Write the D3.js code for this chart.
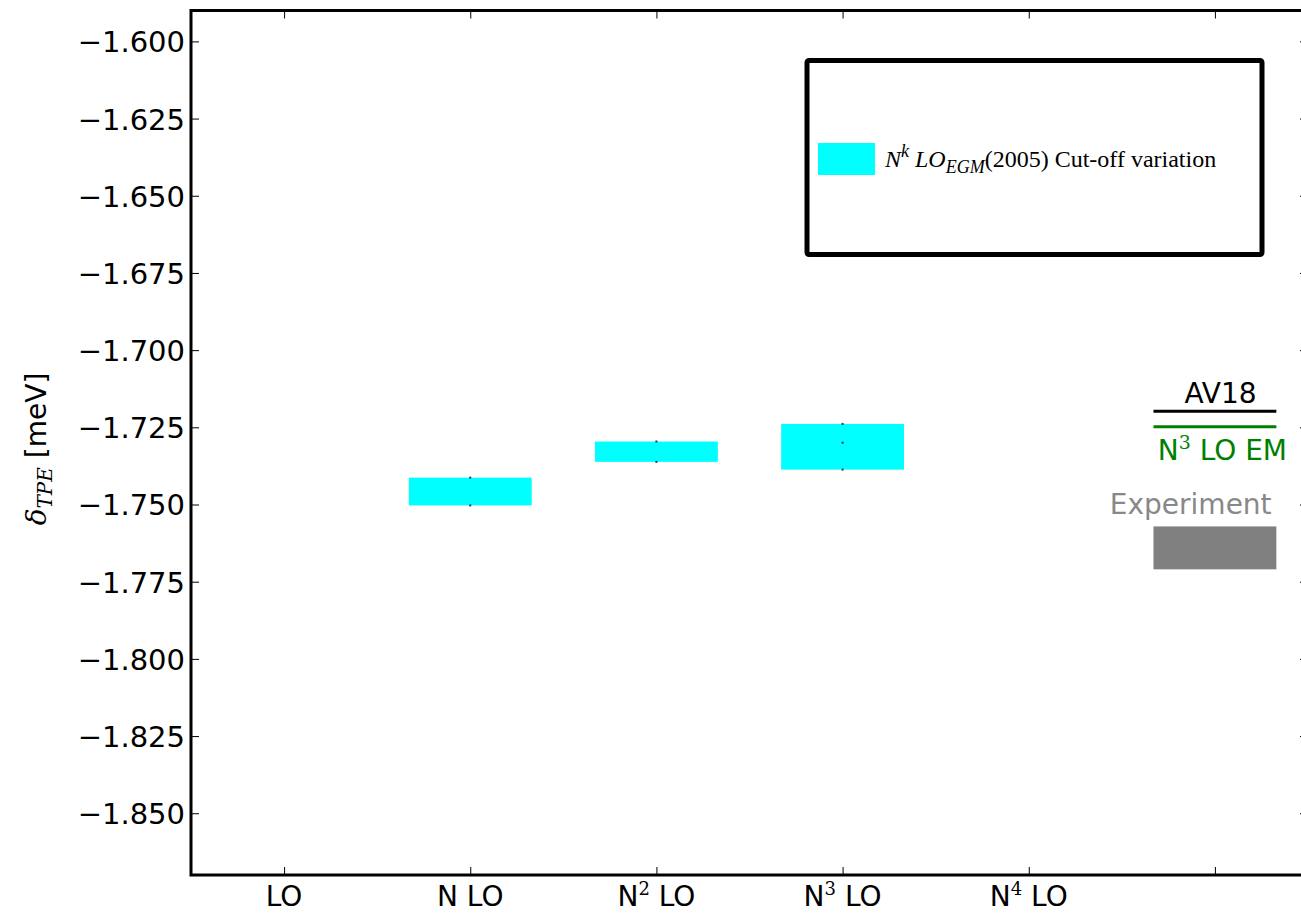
<!DOCTYPE html>
<meta charset="utf-8">
<style>
body { margin: 0; background: #fff; }
svg { display: block; }
.axis text { font-family: 'DejaVu Sans', sans-serif; fill: #000; }
</style>
<svg width="1301" height="914"></svg>
<script src="https://d3js.org/d3.v7.min.js"></script>
<script>

// orders of the chiral expansion (x positions 0..5)
var orders = ["LO", "N LO", "N2 LO", "N3 LO", "N4 LO", ""];
var orderSup = [null, null, "2", "3", "4", null];

// cut-off variation bands: [x index, low, high]
var bandX = [1, 2, 3];
var bandLow = [-1.7503, -1.7362, -1.7387];
var bandHigh = [-1.7413, -1.7296, -1.7239];
var bandMid = [null, null, -1.7300];

// reference values drawn at x = 5
var av18 = -1.7198;
var n3loEM = -1.7248;
var expLow = -1.7710, expHigh = -1.7571;

var yTicks = [-1.600, -1.625, -1.650, -1.675, -1.700, -1.725, -1.750,
              -1.775, -1.800, -1.825, -1.850];
var xTicks = [0, 1, 2, 3, 4, 5];

var sans = "'DejaVu Sans', sans-serif";
var serifM = "'DejaVu Serif', serif";

var svg = d3.select("svg");
var pL = 191, pR = 1308, pT = 10.5, pB = 875;
var halfW = 0.33;

var x = d3.scaleLinear().domain([-0.5, 5.5]).range([pL, pR]);
var y = d3.scaleLinear().domain([-1.59, -1.87]).range([pT, pB]);

// bands
svg.append("g").selectAll("rect")
  .data(bandX)
  .enter().append("rect")
  .attr("x", function(d) { return x(d - halfW); })
  .attr("width", function(d) { return x(d + halfW) - x(d - halfW); })
  .attr("y", function(d, i) { return y(bandHigh[i]); })
  .attr("height", function(d, i) { return y(bandLow[i]) - y(bandHigh[i]); })
  .attr("fill", "#00ffff");

// tiny errorbar marks in the band centres
var marks = [];
bandX.forEach(function(d, i) {
  marks.push([d, bandLow[i]], [d, bandHigh[i]]);
  if (bandMid[i] != null) marks.push([d, bandMid[i]]);
});
svg.append("g").selectAll("rect")
  .data(marks)
  .enter().append("rect")
  .attr("x", function(d) { return x(d[0]) - 1; })
  .attr("y", function(d) { return y(d[1]) - 1; })
  .attr("width", 2).attr("height", 2)
  .attr("fill", "#335");

// AV18 / N3LO EM lines and experiment box
svg.append("line")
  .attr("x1", x(5 - halfW)).attr("x2", x(5 + halfW))
  .attr("y1", y(av18)).attr("y2", y(av18))
  .attr("stroke", "#000").attr("stroke-width", 3);
svg.append("line")
  .attr("x1", x(5 - halfW)).attr("x2", x(5 + halfW))
  .attr("y1", y(n3loEM)).attr("y2", y(n3loEM))
  .attr("stroke", "#008000").attr("stroke-width", 3);
svg.append("rect")
  .attr("x", x(5 - halfW)).attr("width", x(5 + halfW) - x(5 - halfW))
  .attr("y", y(expHigh)).attr("height", y(expLow) - y(expHigh))
  .attr("fill", "#808080");

var lab = svg.append("g").attr("font-family", sans).attr("font-size", 28);
lab.append("text").attr("x", x(5.03)).attr("y", y(av18) - 8)
  .attr("text-anchor", "middle").attr("fill", "#000").text("AV18");
var em = lab.append("text").attr("x", x(5.04)).attr("y", y(n3loEM) + 33)
  .attr("text-anchor", "middle").attr("fill", "#008000");
em.append("tspan").text("N");
em.append("tspan").attr("font-family", serifM).attr("font-size", 19)
  .attr("dy", -11).text("3");
em.append("tspan").attr("dy", 11).text(" LO EM");
lab.append("text").attr("x", x(4.87)).attr("y", y(expHigh) - 12)
  .attr("text-anchor", "middle").attr("fill", "#888").text("Experiment");

// axes
var yl = svg.append("g").attr("class", "axis")
  .attr("transform", "translate(" + pL + ",0)")
  .call(d3.axisLeft(y).tickValues(yTicks).tickSize(-8).tickPadding(6)
    .tickFormat(d3.format(".3f")));
yl.selectAll("text").attr("font-size", 29).attr("dy", "0.36em");

svg.append("g").attr("class", "axis")
  .attr("transform", "translate(" + pR + ",0)")
  .call(d3.axisRight(y).tickValues(yTicks).tickSize(-8).tickFormat(""));

svg.append("g").attr("class", "axis")
  .attr("transform", "translate(0," + pB + ")")
  .call(d3.axisBottom(x).tickValues(xTicks).tickSize(-8).tickFormat(""));

svg.append("g").attr("class", "axis")
  .attr("transform", "translate(0," + pT + ")")
  .call(d3.axisTop(x).tickValues(xTicks).tickSize(-8).tickFormat(""));

svg.selectAll(".axis path.domain").remove();
svg.selectAll(".axis line").attr("stroke", "#000").attr("stroke-width", 1);

// x labels with superscripts
xTicks.forEach(function(d, i) {
  if (!orders[i]) return;
  var t = svg.append("text")
    .attr("x", x(d)).attr("y", pB + 31)
    .attr("text-anchor", "middle")
    .attr("font-family", sans)
    .attr("font-size", 28);
  if (orderSup[i]) {
    t.append("tspan").text("N");
    t.append("tspan").attr("font-family", serifM).attr("font-size", 18)
      .attr("dy", -11).text(orderSup[i]);
    t.append("tspan").attr("dy", 11).text(" LO");
  } else {
    t.text(orders[i]);
  }
});

// frame
svg.append("rect")
  .attr("x", pL).attr("y", pT)
  .attr("width", pR - pL).attr("height", pB - pT)
  .attr("fill", "none").attr("stroke", "#000").attr("stroke-width", 3);

// y label
var yt = svg.append("text")
  .attr("transform", "translate(46,449) rotate(-90)")
  .attr("text-anchor", "middle")
  .attr("font-family", sans)
  .attr("font-size", 28);
yt.append("tspan").attr("font-family", serifM).attr("font-style", "italic").text("δ");
yt.append("tspan").attr("font-family", serifM).attr("font-style", "italic")
  .attr("font-size", 20).attr("dy", 6).text("TPE");
yt.append("tspan").attr("dy", -6).text(" [meV]");

// legend
var lg = svg.append("g");
lg.append("rect")
  .attr("x", 807).attr("y", 60.5).attr("width", 455).attr("height", 194)
  .attr("rx", 2)
  .attr("fill", "#fff").attr("stroke", "#000").attr("stroke-width", 5);
lg.append("rect")
  .attr("x", 818).attr("y", 143).attr("width", 57).attr("height", 32)
  .attr("fill", "#00ffff");
var lt = lg.append("text").attr("x", 885).attr("y", 167)
  .attr("font-family", "'Liberation Serif', serif").attr("font-size", 24);
lt.append("tspan").attr("font-style", "italic").text("N");
lt.append("tspan").attr("font-style", "italic").attr("font-size", 18).attr("dy", -10).text("k");
lt.append("tspan").attr("font-style", "italic").attr("dy", 10).text(" LO");
lt.append("tspan").attr("font-style", "italic").attr("font-size", 18).attr("dy", 6).text("EGM");
lt.append("tspan").attr("dy", -6).text("(2005) Cut-off variation");

</script>
